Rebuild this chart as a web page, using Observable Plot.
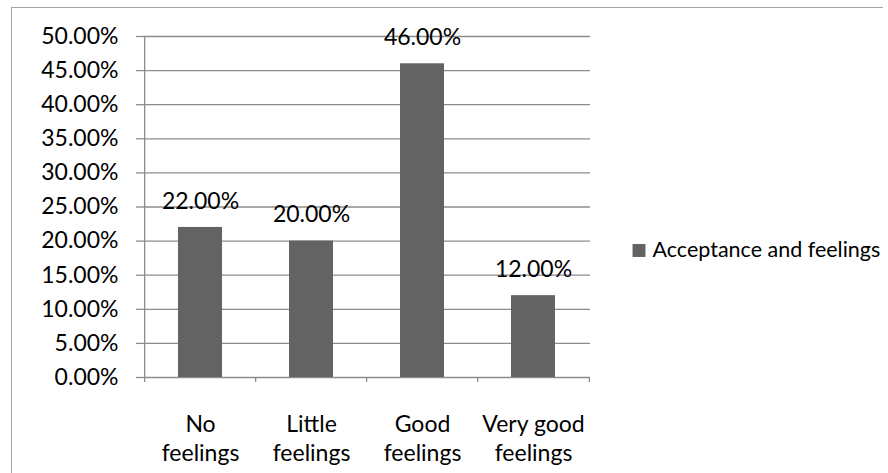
<!DOCTYPE html>
<html>
<head>
<meta charset="utf-8">
<script src="https://cdn.jsdelivr.net/npm/d3@7"></script>
<script src="https://cdn.jsdelivr.net/npm/@observablehq/plot@0.6"></script>
<style>
  html, body { margin: 0; padding: 0; background: #fff; }
  #wrap { position: relative; width: 888px; height: 473px; overflow: hidden; }
  #border {
    position: absolute; left: 11px; top: 7px; width: 871px; height: 480px;
    border-top: 1.5px solid #a3a3a3; border-left: 1.5px solid #a3a3a3;
    pointer-events: none;
  }
  svg { display: block; }
</style>
</head>
<body>
<div id="wrap"><div id="border"></div></div>
<script>
// Share of responses per feeling level
const categories = ["No\nfeelings", "Little\nfeelings", "Good\nfeelings", "Very good\nfeelings"];
const values = [0.22, 0.20, 0.46, 0.12];
const seriesName = "Acceptance and feelings";
const yTicks = [0, 0.05, 0.10, 0.15, 0.20, 0.25, 0.30, 0.35, 0.40, 0.45, 0.50];

const data = categories.map((c, i) => ({category: c, value: values[i]}));

const W = 888, H = 473;
const mL = 143, mR = 298, mT = 36, mB = 96;
const step = (W - mL - mR) / categories.length;
const gridColor = "#8c8c8c";
const fmt = d3.format(".2%");

const chart = Plot.plot({
  width: W,
  height: H,
  marginLeft: mL,
  marginRight: mR,
  marginTop: mT,
  marginBottom: mB,
  style: {fontFamily: "Lato, 'Open Sans', sans-serif", fontSize: "23px", color: "#000", background: "transparent", overflow: "visible"},
  x: {domain: categories, paddingInner: 0.6, paddingOuter: 0.3, label: null},
  y: {domain: [0, 0.5], label: null},
  marks: [
    Plot.gridY(yTicks, {stroke: gridColor, strokeOpacity: 1, strokeWidth: 1.3}),
    Plot.axisY(yTicks, {tickFormat: fmt, tickSize: 7, tickPadding: 18, stroke: gridColor, strokeWidth: 1.3, fontSize: 23, fill: "#000", label: null}),
    // category boundary ticks below the baseline
    Plot.ruleX(categories, {x: d => d, dx: -step / 2, y1: 0, y2: 0, insetBottom: -5, stroke: gridColor, strokeWidth: 1.3}),
    Plot.ruleX([categories[categories.length - 1]], {x: d => d, dx: step / 2, y1: 0, y2: 0, insetBottom: -5, stroke: gridColor, strokeWidth: 1.3}),
    // y axis line
    Plot.ruleX([categories[0]], {x: d => d, dx: -step / 2, y1: 0, y2: 0.5, stroke: gridColor, strokeWidth: 1.3}),
    Plot.barY(data, {x: "category", y: "value", fill: "#636363"}),
    Plot.text(data, {x: "category", y: "value", text: d => fmt(d.value), dy: -26, fill: "#000", fontSize: 23}),
    Plot.axisX({tickSize: 0, tickPadding: 34, lineHeight: 1.25, fontSize: 23, fill: "#000", label: null}),
    // legend
    Plot.dot([seriesName], {frameAnchor: "right", dx: 48.5, dy: 43.5, symbol: "square", r: 7.3, fill: "#636363", stroke: "none"}),
    Plot.text([seriesName], {frameAnchor: "right", dx: 62, dy: 43.5, text: d => d, textAnchor: "start", fill: "#000", fontSize: 21.5})
  ]
});

document.getElementById("wrap").prepend(chart);
</script>
</body>
</html>
